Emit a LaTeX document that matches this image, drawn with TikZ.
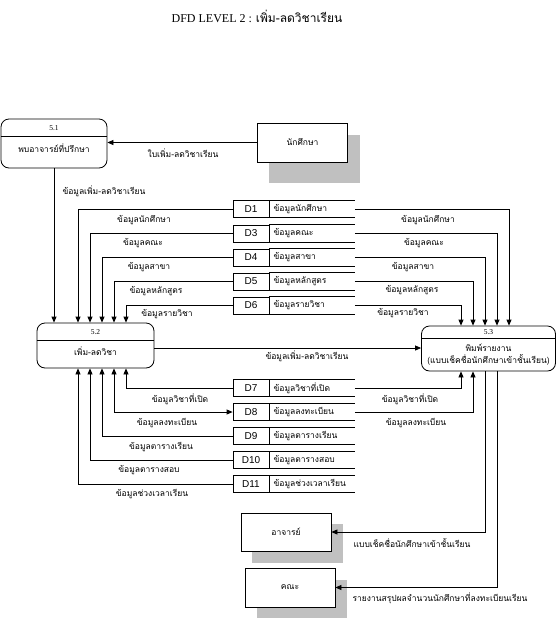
\documentclass[tikz,border=0pt]{standalone}
\usepackage{fontspec}
\setmainfont{Liberation Serif}
\newfontfamily\thaif[Script=Thai]{Loma}
\newfontfamily\dsans{Liberation Sans}
\usetikzlibrary{arrows.meta}
\definecolor{shadowgray}{RGB}{192,192,192}
\tikzset{
  ln/.style={draw=black, line width=0.8pt},
  arr/.style={ln, -{Triangle[length=6pt,width=5pt]}},
  biarr/.style={ln, {Triangle[length=6pt,width=5pt]}-{Triangle[length=6pt,width=5pt]}},
  proc/.style={draw=black, line width=0.8pt, rounded corners=8pt, inner sep=0pt},
  ent/.style={draw=black, fill=white, line width=0.8pt, inner sep=0pt, minimum width=90pt, font=\thaif\fontsize{8.5}{10}\selectfont},
  lbl/.style={inner sep=0pt, font=\thaif\fontsize{8.5}{10}\selectfont},
  num/.style={inner sep=0pt, font=\fontsize{7.5}{9}\selectfont},
  dsid/.style={draw=black, line width=0.8pt, minimum width=36pt, minimum height=17pt, inner sep=0pt, font=\dsans\fontsize{10}{12}\selectfont},
  dsname/.style={anchor=west, minimum height=17pt, text width=77pt, inner xsep=4pt, inner ysep=0pt, align=left, font=\thaif\fontsize{8.5}{10}\selectfont},
}
\begin{document}
\begin{tikzpicture}[x=1pt,y=-1pt]
\useasboundingbox (0,0) rectangle (557,619);

% title
\node[inner sep=0pt, font=\fontsize{12}{14}\selectfont] (title) at (257,16) {DFD LEVEL 2 : {\thaif เพิ่ม-ลดวิชาเรียน}};

% processes
\node[proc, minimum width=106pt, minimum height=49pt] (p51) at (54,143.5) {};
\draw[ln] (p51.west |- 0,136) -- (p51.east |- 0,136);
\node[num] (p51n) at (54,128) {5.1};
\node[lbl] (p51t) at (54,148) {พบอาจารย์ที่ปรึกษา};

\node[proc, minimum width=117pt, minimum height=45pt] (p52) at (95.5,345.5) {};
\draw[ln] (p52.west |- 0,340) -- (p52.east |- 0,340);
\node[num] (p52n) at (95.5,332.5) {5.2};
\node[lbl] (p52t) at (95.5,351) {เพิ่ม-ลดวิชา};

\node[proc, minimum width=134pt, minimum height=45pt] (p53) at (488.5,348.5) {};
\draw[ln] (p53.west |- 0,338) -- (p53.east |- 0,338);
\node[num] (p53n) at (488.5,332) {5.3};
\node[lbl] (p53t) at (488.5,347.5) {พิมพ์รายงาน};
\node[lbl] (p53u) at (488.5,359.5) {(แบบเช็คชื่อนักศึกษาเข้าชั้นเรียน)};

% external entities with shadows
\fill[shadowgray] (269,135) rectangle (360,183);
\node[ent, minimum height=39pt] (nak) at (302.5,142.5) {นักศึกษา};
\fill[shadowgray] (252,524) rectangle (343,563);
\node[ent, minimum height=38pt] (aj) at (286,532) {อาจารย์};
\fill[shadowgray] (257,580) rectangle (347,618);
\node[ent, minimum height=39pt] (kn) at (290,587.5) {คณะ};

% data stores
\node[dsid] (d1) at (251,209) {D1};   \node[dsname] (d1n) at (d1.east) {ข้อมูลนักศึกษา};
\node[dsid] (d3) at (251,233.5) {D3}; \node[dsname] (d3n) at (d3.east) {ข้อมูลคณะ};
\node[dsid] (d4) at (251,257.5) {D4}; \node[dsname] (d4n) at (d4.east) {ข้อมูลสาขา};
\node[dsid] (d5) at (251,281.5) {D5}; \node[dsname] (d5n) at (d5.east) {ข้อมูลหลักสูตร};
\node[dsid] (d6) at (251,305.5) {D6}; \node[dsname] (d6n) at (d6.east) {ข้อมูลรายวิชา};
\node[dsid] (d7) at (251,388) {D7};   \node[dsname] (d7n) at (d7.east) {ข้อมูลวิชาที่เปิด};
\node[dsid] (d8) at (251,412) {D8};   \node[dsname] (d8n) at (d8.east) {ข้อมูลลงทะเบียน};
\node[dsid] (d9) at (251,436) {D9};   \node[dsname] (d9n) at (d9.east) {ข้อมูลตารางเรียน};
\node[dsid] (d10) at (251,460) {D10}; \node[dsname] (d10n) at (d10.east) {ข้อมูลตารางสอบ};
\node[dsid] (d11) at (251,484) {D11}; \node[dsname] (d11n) at (d11.east) {ข้อมูลช่วงเวลาเรียน};
\foreach \n in {d1n,d3n,d4n,d5n,d6n,d7n,d8n,d9n,d10n,d11n}
  \draw[ln] (\n.north west) -- (\n.north east) (\n.south west) -- (\n.south east);

% flows: top part
\draw[arr] (nak.west) -- (p51.east |- nak.west);
\node[lbl] (f1) at (183,153) {ใบเพิ่ม-ลดวิชาเรียน};
\draw[arr] (p51.south) -- (p51.south |- p52.north);
\node[lbl] (f2) at (104,191) {ข้อมูลเพิ่ม-ลดวิชาเรียน};

% data stores -> 5.2 (top)
\draw[arr] (d1.west) -| (78,0 |- p52.north);
\draw[arr] (d3.west) -| (90,0 |- p52.north);
\draw[arr] (d4.west) -| (102,0 |- p52.north);
\draw[arr] (d5.west) -| (114,0 |- p52.north);
\draw[arr] (d6.west) -| (126,0 |- p52.north);
\node[lbl] (l1) at (144,220) {ข้อมูลนักศึกษา};
\node[lbl] (l3) at (143,243) {ข้อมูลคณะ};
\node[lbl] (l4) at (149,267) {ข้อมูลสาขา};
\node[lbl] (l5) at (156,291) {ข้อมูลหลักสูตร};
\node[lbl] (l6) at (167,314) {ข้อมูลรายวิชา};

% data stores -> 5.3 (top)
\draw[arr] (d1n.east) -| (509,0 |- p53.north);
\draw[arr] (d3n.east) -| (497,0 |- p53.north);
\draw[arr] (d4n.east) -| (485,0 |- p53.north);
\draw[arr] (d5n.east) -| (473,0 |- p53.north);
\draw[arr] (d6n.east) -| (461,0 |- p53.north);
\node[lbl] (r1) at (428,220) {ข้อมูลนักศึกษา};
\node[lbl] (r3) at (424,243) {ข้อมูลคณะ};
\node[lbl] (r4) at (413,267) {ข้อมูลสาขา};
\node[lbl] (r5) at (412,290) {ข้อมูลหลักสูตร};
\node[lbl] (r6) at (403,313) {ข้อมูลรายวิชา};

% 5.2 -> 5.3
\draw[arr] (p52.east |- 0,348) -- (p53.west |- 0,348);
\node[lbl] (f3) at (307,356) {ข้อมูลเพิ่ม-ลดวิชาเรียน};

% data stores <-> 5.2 (bottom)
\draw[arr] (d7.west) -| (126,0 |- p52.south);
\draw[biarr] (114,0 |- p52.south) |- (d8.west);
\draw[arr] (d9.west) -| (102,0 |- p52.south);
\draw[arr] (d10.west) -| (90,0 |- p52.south);
\draw[arr] (d11.west) -| (78,0 |- p52.south);
\node[lbl] (l7) at (180,399) {ข้อมูลวิชาที่เปิด};
\node[lbl] (l8) at (167,423) {ข้อมูลลงทะเบียน};
\node[lbl] (l9) at (161,447) {ข้อมูลตารางเรียน};
\node[lbl] (l10) at (149,470) {ข้อมูลตารางสอบ};
\node[lbl] (l11) at (152,494) {ข้อมูลช่วงเวลาเรียน};

% data stores -> 5.3 (bottom)
\draw[arr] (d7n.east) -| (461,0 |- p53.south);
\draw[arr] (d8n.east) -| (473,0 |- p53.south);
\node[lbl] (r7) at (410,399) {ข้อมูลวิชาที่เปิด};
\node[lbl] (r8) at (416,423) {ข้อมูลลงทะเบียน};

% outputs
\draw[arr] (485,0 |- p53.south) |- (aj.east);
\node[lbl] (f4) at (412,543) {แบบเช็คชื่อนักศึกษาเข้าชั้นเรียน};
\draw[arr] (497,0 |- p53.south) |- (kn.east);
\node[lbl] (f5) at (440,598) {รายงานสรุปผลจำนวนนักศึกษาที่ลงทะเบียนเรียน};
\end{tikzpicture}
\end{document}
